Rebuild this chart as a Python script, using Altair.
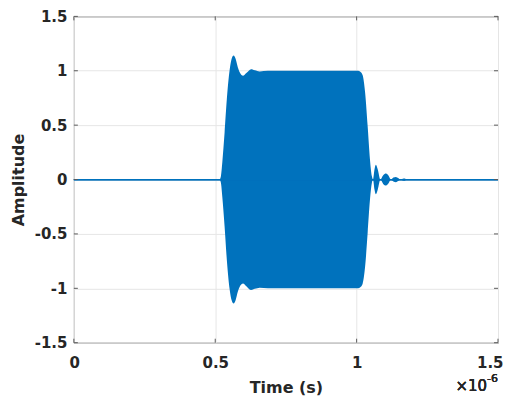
import altair as alt
import pandas as pd

# Envelope of the pulse (time in microseconds, amplitude)
t_us = [0.000, 0.515, 0.520, 0.525, 0.533, 0.541, 0.551, 0.558, 0.565, 0.572,
        0.580, 0.590, 0.598, 0.610, 0.627, 0.640, 0.657, 0.686, 1.005, 1.013,
        1.021, 1.030, 1.039, 1.047, 1.054, 1.058, 1.063, 1.068, 1.075, 1.084,
        1.094, 1.104, 1.113, 1.121, 1.130, 1.139, 1.147, 1.155, 1.163, 1.170,
        1.178, 1.500]
envelope = [0.0, 0.0, 0.03, 0.16, 0.43, 0.74, 1.01, 1.11, 1.14, 1.11,
            1.03, 0.97, 0.955, 0.98, 1.015, 1.005, 0.994, 1.0, 1.0, 0.99,
            0.96, 0.80, 0.49, 0.19, 0.03, 0.0, 0.09, 0.136, 0.09, 0.0,
            0.04, 0.055, 0.035, 0.0, 0.018, 0.024, 0.014, 0.0, 0.008, 0.01,
            0.0, 0.0]

x_ticks = [0, 0.5, 1, 1.5]
y_ticks = [-1.5, -1, -0.5, 0, 0.5, 1, 1.5]

W, H = 425, 327
BLUE = "#0072BD"
EDGE = "#5a5a5a"
FONT = "DejaVu Sans"

df = pd.DataFrame({"t": t_us, "up": envelope})
df["lo"] = -df["up"]
xt = pd.DataFrame({"t": x_ticks})
yt = pd.DataFrame({"up": y_ticks})

xs = alt.Scale(domain=[0, 1.5], nice=False, zero=False)
ys = alt.Scale(domain=[-1.5, 1.5], nice=False, zero=False)

xaxis = alt.Axis(values=x_ticks, grid=True, gridColor="#e6e6e6", ticks=False,
                 domain=False, labelPadding=13, labelExpr="'' + datum.value",
                 labelFlush=True, labelFlushOffset=5,
                 titleY=50, titleBaseline="alphabetic")
yaxis = alt.Axis(values=y_ticks, grid=True, gridColor="#e6e6e6", ticks=False,
                 domain=False, labelPadding=7, labelExpr="'' + datum.value",
                 labelFlush=False,
                 titleX=-55, titleY=H / 2, titleBaseline="middle", titleAlign="center",
                 titleAngle=270)


def X(field="t"):
    return alt.X(f"{field}:Q", scale=xs, axis=xaxis, title="Time (s)")


def Y(field="up"):
    return alt.Y(f"{field}:Q", scale=ys, axis=yaxis, title="Amplitude")


area = alt.Chart(df).mark_area(color=BLUE, interpolate="monotone", opacity=1,
                               strokeWidth=0).encode(
    x=X(), y=Y(), y2="lo:Q"
)
zero_line = alt.Chart(xt).mark_rule(color=BLUE, strokeWidth=1.2).encode(
    y=alt.datum(0, scale=ys, axis=yaxis, title="Amplitude")
)

tick_b = alt.Chart(xt).mark_rule(color=EDGE).encode(x=X(), y=alt.value(H), y2=alt.value(H - 4))
tick_t = alt.Chart(xt).mark_rule(color=EDGE).encode(x=X(), y=alt.value(0), y2=alt.value(4))
tick_l = alt.Chart(yt).mark_rule(color=EDGE).encode(y=Y(), x=alt.value(0), x2=alt.value(4))
tick_r = alt.Chart(yt).mark_rule(color=EDGE).encode(y=Y(), x=alt.value(W - 4), x2=alt.value(W))

exp_base = alt.Chart(xt).mark_text(align="right", baseline="alphabetic", fontSize=15,
                                   font=FONT, color="#262626").encode(
    x=alt.value(414), y=alt.value(375), text=alt.value("×10"))
exp_sup = alt.Chart(xt).mark_text(align="left", baseline="alphabetic", fontSize=11,
                                  font=FONT, color="#262626").encode(
    x=alt.value(414), y=alt.value(366), text=alt.value("-6"))

chart = alt.layer(area, zero_line, tick_b, tick_t, tick_l, tick_r, exp_base, exp_sup).properties(
    width=W, height=H,
    padding={"left": 66, "top": 8, "right": 6, "bottom": 54},
    autosize=alt.AutoSizeParams(type="none"),
).configure_view(stroke=EDGE, strokeWidth=1).configure_axis(
    labelFont=FONT, labelFontWeight="bold", labelFontSize=15, labelColor="#262626",
    titleFont=FONT, titleFontWeight="bold", titleFontSize=16, titleColor="#262626",
)

chart.save("out.html", embed_options={"renderer": "svg", "actions": False})
